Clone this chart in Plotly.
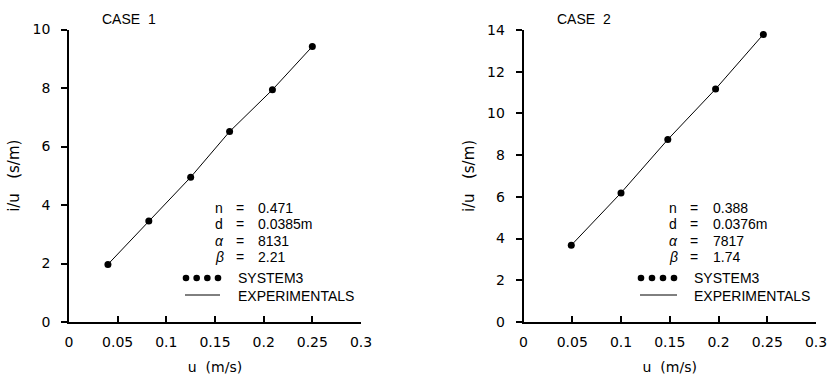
import plotly.graph_objects as go

W, H = 831, 375

# ---- data ----
case1_u = [0.040, 0.082, 0.125, 0.165, 0.209, 0.250]
case1_system3 = [1.97, 3.45, 4.95, 6.51, 7.94, 9.42]
case1_exp = [1.97, 3.45, 4.95, 6.51, 7.94, 9.42]

case2_u = [0.049, 0.100, 0.148, 0.197, 0.246]
case2_system3 = [3.68, 6.19, 8.75, 11.17, 13.79]
case2_exp = [3.68, 6.19, 8.75, 11.17, 13.79]

x_ticks = [0, 0.05, 0.1, 0.15, 0.2, 0.25, 0.3]
x_ticktext = ["0", "0.05", "0.1", "0.15", "0.2", "0.25", "0.3"]
y1_ticks = [0, 2, 4, 6, 8, 10]
y2_ticks = [0, 2, 4, 6, 8, 10, 12, 14]

case1_params = [("n", "0.471"), ("d", "0.0385m"), ("<i>α</i>", "8131"), ("<i>β</i>", "2.21")]
case2_params = [("n", "0.388"), ("d", "0.0376m"), ("<i>α</i>", "7817"), ("<i>β</i>", "1.74")]
titles = ["CASE  1", "CASE  2"]
legend_labels = ["SYSTEM3", "EXPERIMENTALS"]
x_title = "u  (m/s)"
y_title = "i/u   (s/m)"

FONT = "Liberation Sans, Arial, sans-serif"
AXFONT = "DejaVu Sans, sans-serif"


def px(x):
    return x / W


def py(y):
    return 1 - y / H


fig = go.Figure()

fig.add_trace(go.Scatter(x=case1_u, y=case1_exp, mode="lines",
                         line=dict(color="black", width=1), xaxis="x", yaxis="y",
                         showlegend=False))
fig.add_trace(go.Scatter(x=case1_u, y=case1_system3, mode="markers",
                         marker=dict(color="black", size=7), xaxis="x", yaxis="y",
                         showlegend=False))
fig.add_trace(go.Scatter(x=case2_u, y=case2_exp, mode="lines",
                         line=dict(color="black", width=1), xaxis="x2", yaxis="y2",
                         showlegend=False))
fig.add_trace(go.Scatter(x=case2_u, y=case2_system3, mode="markers",
                         marker=dict(color="black", size=7), xaxis="x2", yaxis="y2",
                         showlegend=False))

common_x = dict(range=[0, 0.3], tickvals=x_ticks, ticktext=x_ticktext,
                ticks="inside", ticklen=6, tickwidth=1.5, tickcolor="black",
                showline=True, linecolor="black", linewidth=1.5,
                showgrid=False, zeroline=False, automargin=False,
                ticklabeloverflow="allow", ticklabelstandoff=6,
                tickfont=dict(family=AXFONT, size=14, color="black"),
                title=dict(text=x_title, font=dict(family=AXFONT, size=14, color="black"), standoff=16))
common_y = dict(ticks="outside", ticklen=6, tickwidth=1.5, tickcolor="black",
                showline=True, linecolor="black", linewidth=1.5,
                showgrid=False, zeroline=False, automargin=False,
                ticklabelstandoff=8, ticklabeloverflow="allow",
                tickfont=dict(family=AXFONT, size=14, color="black"),
                title=dict(text=y_title, font=dict(family=AXFONT, size=15, color="black"), standoff=9))

fig.update_layout(
    width=W, height=H,
    margin=dict(l=0, r=0, t=0, b=0, autoexpand=False),
    paper_bgcolor="white", plot_bgcolor="white",
    font=dict(family=FONT, size=14, color="black"),
    xaxis=dict(domain=[px(69), px(361)], anchor="y", **common_x),
    yaxis=dict(domain=[py(322), py(29.5)], anchor="x", range=[0, 10], tickvals=y1_ticks, **common_y),
    xaxis2=dict(domain=[px(523.5), px(816)], anchor="y2", **common_x),
    yaxis2=dict(domain=[py(322), py(30)], anchor="x2", range=[0, 14], tickvals=y2_ticks, **common_y),
)

annotations = []
shapes = []

panels = [
    dict(title=titles[0], tx=100, params=case1_params, sym_x=219, eq_x=240, val_x=256,
         dots_x0=186, dots_x1=218, line_x0=185, line_x1=220, text_x=236),
    dict(title=titles[1], tx=555, params=case2_params, sym_x=673, eq_x=694, val_x=711,
         dots_x0=641, dots_x1=674, line_x0=640, line_x1=677, text_x=692),
]

for p in panels:
    annotations.append(dict(text=p["title"], x=px(p["tx"]), y=py(19), xref="paper", yref="paper",
                            xanchor="left", yanchor="middle", showarrow=False,
                            font=dict(size=14)))
    for i, (sym, val) in enumerate(p["params"]):
        yy = py(208 + 16.3 * i)
        annotations.append(dict(text=sym, x=px(p["sym_x"]), y=yy, xref="paper", yref="paper",
                                xanchor="center", yanchor="middle", showarrow=False, font=dict(size=14)))
        annotations.append(dict(text="=", x=px(p["eq_x"]), y=yy, xref="paper", yref="paper",
                                xanchor="center", yanchor="middle", showarrow=False, font=dict(size=14)))
        annotations.append(dict(text=val, x=px(p["val_x"]), y=yy, xref="paper", yref="paper",
                                xanchor="left", yanchor="middle", showarrow=False, font=dict(size=14)))
    # legend: dots
    for k in range(4):
        cx = p["dots_x0"] + k * (p["dots_x1"] - p["dots_x0"]) / 3
        shapes.append(dict(type="circle", xref="paper", yref="paper",
                           x0=px(cx - 3.3), x1=px(cx + 3.3), y0=py(278 + 3.3), y1=py(278 - 3.3),
                           fillcolor="black", line=dict(width=0)))
    annotations.append(dict(text=legend_labels[0], x=px(p["text_x"]), y=py(278), xref="paper", yref="paper",
                            xanchor="left", yanchor="middle", showarrow=False, font=dict(size=14)))
    shapes.append(dict(type="line", xref="paper", yref="paper",
                       x0=px(p["line_x0"]), x1=px(p["line_x1"]), y0=py(295), y1=py(295),
                       line=dict(color="black", width=1)))
    annotations.append(dict(text=legend_labels[1], x=px(p["text_x"]), y=py(296), xref="paper", yref="paper",
                            xanchor="left", yanchor="middle", showarrow=False, font=dict(size=14)))

fig.update_layout(annotations=annotations, shapes=shapes)

fig.write_html("out.html",
               config={"displayModeBar": False},
               post_script="document.body.style.margin='0';document.body.style.padding='0';")
